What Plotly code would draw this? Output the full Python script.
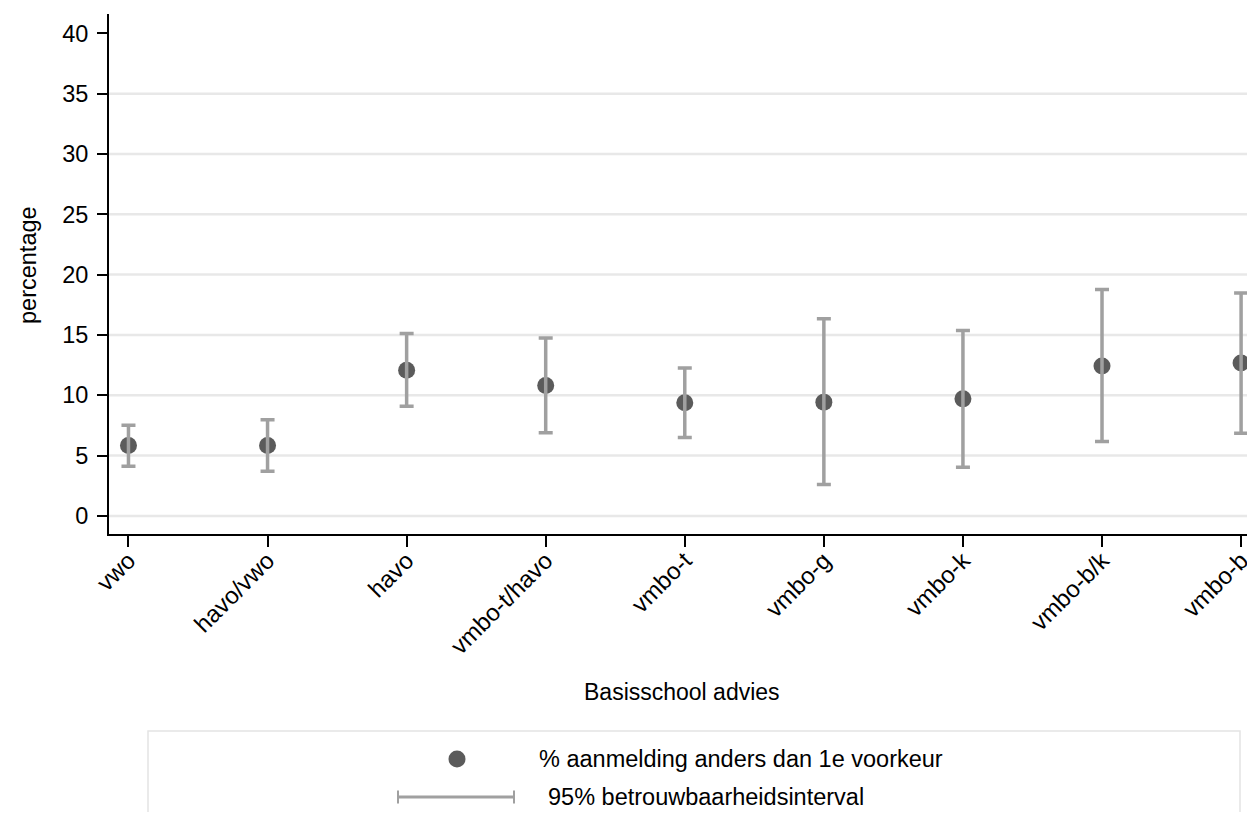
import plotly.graph_objects as go

categories = ["vwo", "havo/vwo", "havo", "vmbo-t/havo", "vmbo-t", "vmbo-g", "vmbo-k", "vmbo-b/k", "vmbo-b"]
pct = [5.83, 5.83, 12.07, 10.80, 9.37, 9.43, 9.70, 12.43, 12.68]
ci_low = [4.11, 3.70, 9.08, 6.89, 6.50, 2.60, 4.03, 6.16, 6.85]
ci_high = [7.51, 7.96, 15.12, 14.75, 12.26, 16.35, 15.36, 18.76, 18.48]
y_ticks = [0, 5, 10, 15, 20, 25, 30, 35, 40]
grid_vals = [0, 5, 10, 15, 20, 25, 30, 35]

FONT = "Liberation Sans, Arial, sans-serif"
DOT = "#5b5b5b"
BAR = "#a0a0a0"

W, H = 1247, 804
ML, MT, PH = 101, 6, 520
PW = W - ML

xi = list(range(len(categories)))
err_plus = [h - p for h, p in zip(ci_high, pct)]
err_minus = [p - l for p, l in zip(pct, ci_low)]

fig = go.Figure()
fig.add_trace(go.Scatter(
    x=xi, y=pct, mode="markers",
    marker=dict(size=17, color=DOT),
    showlegend=False, hoverinfo="skip",
))
fig.add_trace(go.Scatter(
    x=xi, y=pct, mode="markers",
    marker=dict(size=1, color="rgba(0,0,0,0)"),
    error_y=dict(type="data", symmetric=False, array=err_plus, arrayminus=err_minus,
                 color=BAR, thickness=3.5, width=7),
    showlegend=False, hoverinfo="skip",
))

shapes = []
for g in grid_vals:
    shapes.append(dict(type="line", xref="paper", yref="y", x0=0, x1=1, y0=g, y1=g,
                       line=dict(color="#e8e8e8", width=2.5), layer="below"))


def px(page_x):
    return (page_x - 8 - ML) / PW


def py(page_y):
    return (8 + MT + PH - page_y) / PH


# custom legend box
shapes.append(dict(type="rect", xref="paper", yref="paper", x0=px(148), x1=px(1240),
                   y0=py(840), y1=py(731), line=dict(color="#e4e4e4", width=1.5)))
shapes.append(dict(type="circle", xref="paper", yref="paper",
                   x0=px(457 - 8.5), x1=px(457 + 8.5),
                   y0=py(759 + 8.5), y1=py(759 - 8.5),
                   fillcolor=DOT, line=dict(color=DOT, width=0)))
shapes.append(dict(type="line", xref="paper", yref="paper", x0=px(398), x1=px(514),
                   y0=py(797), y1=py(797), line=dict(color=BAR, width=3)))
for xe in (398, 514):
    shapes.append(dict(type="line", xref="paper", yref="paper", x0=px(xe), x1=px(xe),
                       y0=py(797 + 6.5), y1=py(797 - 6.5),
                       line=dict(color=BAR, width=2)))

annotations = [
    dict(text="Basisschool advies", xref="paper", yref="paper", x=0.5, y=py(692),
         xanchor="center", yanchor="middle", showarrow=False,
         font=dict(family=FONT, size=23, color="black")),
    dict(text="percentage", xref="paper", yref="paper", x=px(28), y=py(265),
         xanchor="center", yanchor="middle", textangle=-90, showarrow=False,
         font=dict(family=FONT, size=23.5, color="black")),
    dict(text="% aanmelding anders dan 1e voorkeur", xref="paper", yref="paper",
         x=px(537), y=py(759), xanchor="left", yanchor="middle", showarrow=False,
         font=dict(family=FONT, size=23.5, color="black")),
    dict(text="95% betrouwbaarheidsinterval", xref="paper", yref="paper",
         x=px(546), y=py(797), xanchor="left", yanchor="middle", showarrow=False,
         font=dict(family=FONT, size=23.5, color="black")),
]

fig.update_layout(
    width=W, height=H,
    margin=dict(l=ML, r=0, t=MT, b=H - MT - PH, pad=0),
    paper_bgcolor="white", plot_bgcolor="white",
    font=dict(family=FONT, size=22, color="black"),
    showlegend=False,
    shapes=shapes,
    annotations=annotations,
    xaxis=dict(
        range=[-0.14, 8.1], tickmode="array", tickvals=xi, ticktext=categories,
        tickangle=-45, ticks="outside", ticklen=11, tickwidth=1.5, tickcolor="black",
        showline=True, linecolor="black", linewidth=2, showgrid=False, zeroline=False,
        tickfont=dict(family=FONT, size=24, color="black"), ticklabelstandoff=-10,
    ),
    yaxis=dict(
        range=[-1.5, 41.6], tickmode="array", tickvals=y_ticks,
        ticks="outside", ticklen=10, tickwidth=1.5, tickcolor="black",
        showline=True, linecolor="black", linewidth=2, showgrid=False, zeroline=False,
        tickfont=dict(family=FONT, size=23.5, color="black"), ticklabelstandoff=4,
    ),
)

fig.write_html("out.html")
